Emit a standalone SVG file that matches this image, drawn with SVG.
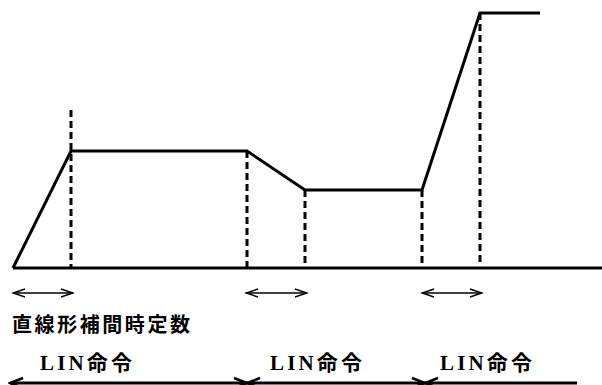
<svg xmlns="http://www.w3.org/2000/svg" width="602" height="385" viewBox="0 0 602 385">
<style>
.solid{fill:none;stroke:#000;stroke-width:3;stroke-linejoin:miter}
.dash{fill:none;stroke:#000;stroke-width:3;stroke-dasharray:7 4}
.thin{fill:none;stroke:#000;stroke-width:1.5;marker-start:url(#sa);marker-end:url(#sa)}
.thick{fill:none;stroke:#000;stroke-width:3}
.lbl{font-family:"Liberation Serif","Noto Sans CJK JP",serif;font-size:21px;font-weight:bold;fill:#000}
.head{font-family:"Noto Sans CJK JP",sans-serif;font-size:20px;font-weight:bold;fill:#000}
</style>
<defs>
<marker id="sa" markerUnits="userSpaceOnUse" viewBox="-14 -6 16 12" markerWidth="16" markerHeight="12" refX="0" refY="0" orient="auto-start-reverse">
<path d="M-12,-4 L0,0 L-12,4" fill="none" stroke="#000" stroke-width="1.5"/>
</marker>
<marker id="ba" markerUnits="userSpaceOnUse" viewBox="-16 -7 18 14" markerWidth="18" markerHeight="14" refX="0" refY="0" orient="auto-start-reverse">
<path d="M-13,-5 L0,0 L-13,5" fill="none" stroke="#000" stroke-width="2.5"/>
</marker>
</defs>
<g id="waveform">
<line class="solid" x1="13" y1="268" x2="602" y2="268"/>
<polyline class="solid" points="13,268 71,151 247,151 305,190 422,190 480,13 540,13"/>
</g>
<g id="guides">
<line class="dash" x1="71" y1="110" x2="71" y2="268"/>
<line class="dash" x1="247" y1="151" x2="247" y2="268"/>
<line class="dash" x1="305" y1="190" x2="305" y2="268"/>
<line class="dash" x1="422" y1="190" x2="422" y2="263"/>
<line class="dash" x1="480" y1="13" x2="480" y2="266"/>
</g>
<g id="connectors">
<line class="thin" x1="13" y1="293" x2="73" y2="293"/>
<line class="thin" x1="246" y1="293" x2="307" y2="293"/>
<line class="thin" x1="422" y1="293" x2="482" y2="293"/>
<line class="thick" x1="10" y1="383" x2="247" y2="383" marker-start="url(#ba)" marker-end="url(#ba)"/>
<line class="thick" x1="247" y1="383" x2="425" y2="383" marker-start="url(#ba)" marker-end="url(#ba)"/>
<line class="thick" x1="425" y1="383" x2="577" y2="383" marker-start="url(#ba)"/>
</g>
<g id="heading">
<text class="head" x="12" y="332" textLength="178" lengthAdjust="spacing">直線形補間時定数</text>
</g>
<g id="lin1"><text class="lbl" x="40" y="370" textLength="92" lengthAdjust="spacing">LIN命令</text></g>
<g id="lin2"><text class="lbl" x="270" y="370" textLength="92" lengthAdjust="spacing">LIN命令</text></g>
<g id="lin3"><text class="lbl" x="440" y="370" textLength="92" lengthAdjust="spacing">LIN命令</text></g>
</svg>
